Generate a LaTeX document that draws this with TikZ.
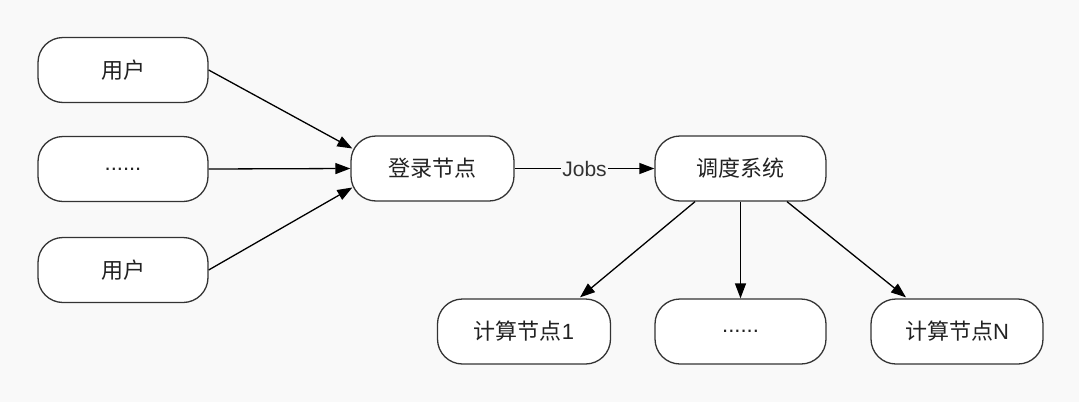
\documentclass[tikz,border=0pt]{standalone}
\usepackage{fontspec}
\setmainfont{Liberation Sans}
\newfontfamily\cjk{Noto Sans CJK SC}
\usetikzlibrary{arrows.meta,calc}
\definecolor{bgc}{RGB}{249,249,249}
\definecolor{strokec}{RGB}{51,51,51}
\definecolor{textc}{RGB}{34,34,34}
\begin{document}
\begin{tikzpicture}[x=1pt,y=-1pt,
  box/.style={draw=strokec,fill=white,line width=1.3pt,rounded corners=25pt,
    minimum height=65pt,inner sep=0pt,font=\fontsize{22}{26}\selectfont,text=textc},
  arr/.style={draw=black,line width=1.3pt,-{Triangle[length=15pt,width=11pt]}},
  lab/.style={fill=bgc,inner sep=1pt,font=\fontsize{21}{24}\selectfont,text=strokec}]
\fill[bgc] (0,0) rectangle (1079,402);
\useasboundingbox (0,0) rectangle (1079,402);
\node[box,minimum width=170pt] (u1) at (123,70) {\cjk 用户};
\node[box,minimum width=170pt] (u2) at (123,169) {......};
\node[box,minimum width=170pt] (u3) at (123,270) {\cjk 用户};
\node[box,minimum width=163pt] (login) at (432.5,168.5) {\cjk 登录节点};
\node[box,minimum width=171pt] (sched) at (740.5,168.5) {\cjk 调度系统};
\node[box,minimum width=173pt] (c1) at (524,331.5) {{\cjk 计算节点}1};
\node[box,minimum width=171pt] (c2) at (740.5,331.5) {......};
\node[box,minimum width=172pt] (cN) at (957,331.5) {{\cjk 计算节点}N};
\coordinate (l1) at ($(login.west)+(2,-20)$);
\coordinate (l3) at ($(login.west)+(2,19)$);
\coordinate (s1) at ($(sched.south)+(-45.5,0)$);
\coordinate (s3) at ($(sched.south)+(46.5,0)$);
\coordinate (t1) at ($(c1.north)+(56,-1)$);
\coordinate (tN) at ($(cN.north)+(-51,-1)$);
\draw[arr] (u1.east) -- (l1);
\draw[arr] (u2.east) -- (login.west);
\draw[arr] (u3.east) -- (l3);
\draw[arr] (login.east) -- node[lab] (jobs) {Jobs} (sched.west);
\draw[arr] (s1) -- (t1);
\draw[arr] (sched.south) -- (c2.north);
\draw[arr] (s3) -- (tN);
\end{tikzpicture}
\end{document}
